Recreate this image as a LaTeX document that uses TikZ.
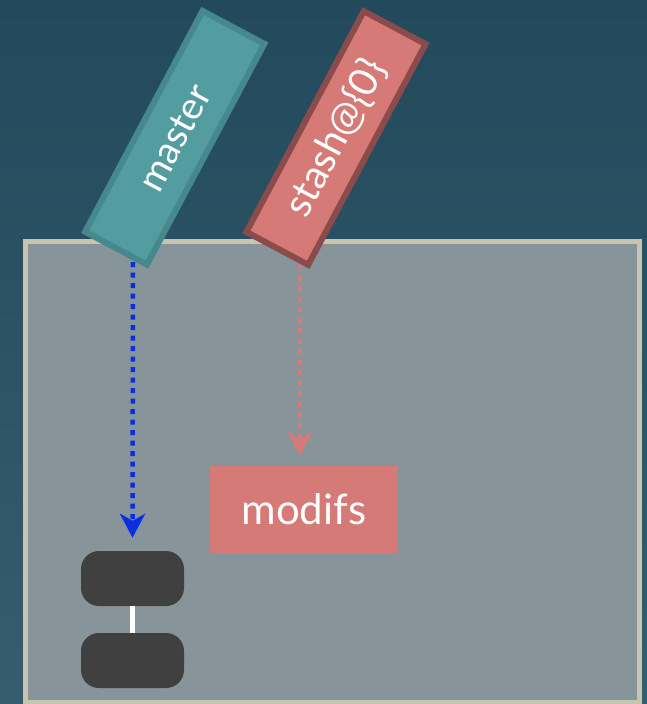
\documentclass[tikz,border=0pt]{standalone}
\usepackage{fontspec}
\setmainfont{Lato}
\usetikzlibrary{arrows.meta,backgrounds}
\definecolor{bgtop}{HTML}{234A5C}
\definecolor{bgbot}{HTML}{365D6D}
\definecolor{boxfill}{HTML}{87949A}
\definecolor{boxline}{HTML}{C6C6B0}
\definecolor{mfill}{HTML}{539DA1}
\definecolor{mline}{HTML}{45888E}
\definecolor{sfill}{HTML}{D57A76}
\definecolor{sline}{HTML}{8C4B4B}
\definecolor{commitc}{HTML}{404040}
\definecolor{bluearr}{HTML}{0A2EE0}
\tikzset{
  refbox/.style={rotate=62, minimum width=250pt, minimum height=70pt, line width=6pt, inner sep=0pt, text=white, font=\fontsize{38}{42}\selectfont},
  commitbox/.style={fill=commitc, rounded corners=18pt, minimum width=103pt, minimum height=55pt, inner sep=0pt},
  dotarrow/.style={line width=4.5pt, dash pattern=on 5pt off 5.5pt, -{Stealth[length=24pt, width=25pt, inset=7pt]}},
}
\begin{document}
\begin{tikzpicture}[x=1pt, y=-1pt]
\useasboundingbox (0,0) rectangle (647,704);
\shade[top color=bgtop, bottom color=bgbot] (0,0) rectangle (647,704);
\draw[fill=boxfill, draw=boxline, line width=5pt] (25,241) rectangle (639,702.5);
\node[commitbox] (c1) at (132.5,578.5) {};
\node[commitbox] (c2) at (132.5,660.5) {};
\draw[white, line width=5pt] (c1.south) -- (c2.north);
\node[fill=sfill, minimum width=188pt, minimum height=87pt, inner sep=0pt, text=white, font=\fontsize{42}{46}\selectfont] (modifs) at (304,509.5) {modifs};
\coordinate (ms) at (133,262);
\coordinate (ss) at (300,265);
\draw[dotarrow, bluearr, shorten >=13pt] (ms) -- (c1.north);
\draw[dotarrow, sfill, shorten >=10pt] (ss) -- (modifs.north -| ss);
\node[refbox, fill=mfill, draw=mline] (master) at (174.75,137.75) {master};
\node[refbox, fill=sfill, draw=sline, font=\fontsize{40}{44}\selectfont] (stash) at (336,138) {stash@\{0\}};
\end{tikzpicture}
\end{document}
